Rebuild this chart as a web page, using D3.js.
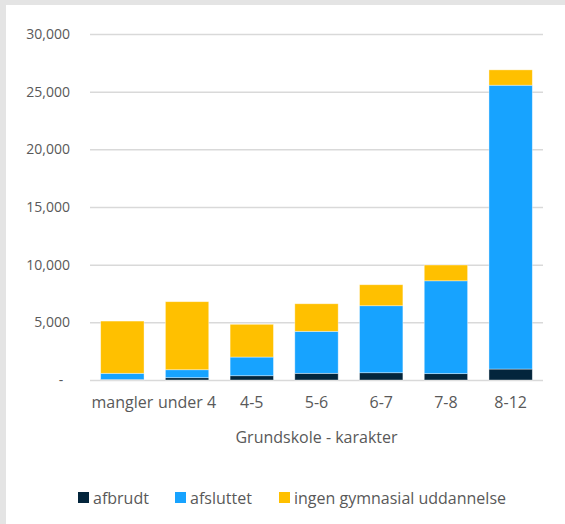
<!DOCTYPE html>
<html lang="da">
<head>
<meta charset="UTF-8">
<title>Grundskole - karakter</title>
<script src="https://cdn.jsdelivr.net/npm/d3@7"></script>
<style>
    body { margin: 0; background: #fff; }
    svg text { font-family: "Open Sans", "Noto Sans", sans-serif; fill: #595959; }
</style>
</head>
<body>
<svg id="chart"></svg>
<script>
// data
var categories = ["mangler", "under 4", "4-5", "5-6", "6-7", "7-8", "8-12"];
var afbrudt    = [50, 200, 370, 580, 630, 550, 950];
var afsluttet  = [530, 690, 1620, 3640, 5810, 8050, 24610];
var ingen      = [4530, 5900, 2840, 2390, 1820, 1370, 1330];
var seriesNames = ["afbrudt", "afsluttet", "ingen gymnasial uddannelse"];
var yTicks = [0, 5000, 10000, 15000, 20000, 25000, 30000];

var svgWidth = 565, svgHeight = 524;
var plotLeft = 90, plotRight = 543, plotTop = 34, plotBottom = 380;
var colors = ["#03253C", "#17A3FF", "#FFC000"];

var svg = d3.select("#chart")
    .attr("width", svgWidth)
    .attr("height", svgHeight);

// grey frame on top / left edge
svg.append("rect").attr("x", 0).attr("y", 0).attr("width", svgWidth).attr("height", svgHeight).attr("fill", "#e4e4e4");
svg.append("rect").attr("x", 6).attr("y", 5).attr("width", svgWidth).attr("height", svgHeight).attr("fill", "#fff");

var xs = d3.scaleBand().domain(categories).range([plotLeft, plotRight]).paddingInner(0.33).paddingOuter(0.165);
var ys = d3.scaleLinear().domain([0, 30000]).range([plotBottom, plotTop]);

// y axis with gridlines
var yAxis = svg.append("g")
    .attr("transform", "translate(" + plotLeft + ",0)")
    .call(d3.axisLeft(ys).tickValues(yTicks).tickSize(-(plotRight - plotLeft))
        .tickFormat(function(d) { return d === 0 ? "-" : d3.format(",")(d); }));
yAxis.select(".domain").remove();
yAxis.selectAll("line").attr("stroke", "#d9d9d9").attr("stroke-width", 1.5);
yAxis.selectAll("text")
    .attr("x", function(d) { return d === 0 ? -29 : -20; })
    .style("font-size", "14px")
    .attr("text-anchor", function(d) { return d === 0 ? "middle" : "end"; });

// stacked bars
var rows = categories.map(function(c, i) {
    return {cat: c, afbrudt: afbrudt[i], afsluttet: afsluttet[i], ingen: ingen[i]};
});
var stack = d3.stack().keys(["afbrudt", "afsluttet", "ingen"])(rows);

svg.append("g").selectAll("g")
    .data(stack)
    .enter().append("g")
    .attr("fill", function(d, i) { return colors[i]; })
    .selectAll("rect")
    .data(function(d) { return d; })
    .enter().append("rect")
    .attr("x", function(d) { return xs(d.data.cat); })
    .attr("y", function(d) { return ys(d[1]); })
    .attr("width", xs.bandwidth())
    .attr("height", function(d) { return ys(d[0]) - ys(d[1]); })
    .attr("stroke", "#ffffff")
    .attr("stroke-opacity", 0.5)
    .attr("stroke-width", 0.75);

// x axis labels
var xAxis = svg.append("g")
    .attr("transform", "translate(0," + plotBottom + ")")
    .call(d3.axisBottom(xs).tickSize(0).tickPadding(17));
xAxis.select(".domain").remove();
xAxis.selectAll("text").style("font-size", "16px");

// x axis title
svg.append("text")
    .attr("x", (plotLeft + plotRight) / 2)
    .attr("y", 443)
    .attr("text-anchor", "middle")
    .style("font-size", "16px")
    .text("Grundskole - karakter");

// legend
var legendX = [78, 175, 279];
var legend = svg.append("g").selectAll("g")
    .data(seriesNames)
    .enter().append("g")
    .attr("transform", function(d, i) { return "translate(" + legendX[i] + ",492)"; });
legend.append("rect")
    .attr("width", 11).attr("height", 11)
    .attr("fill", function(d, i) { return colors[i]; });
legend.append("text")
    .attr("x", 15).attr("y", 12)
    .style("font-size", "16px")
    .text(function(d) { return d; });
</script>
</body>
</html>
